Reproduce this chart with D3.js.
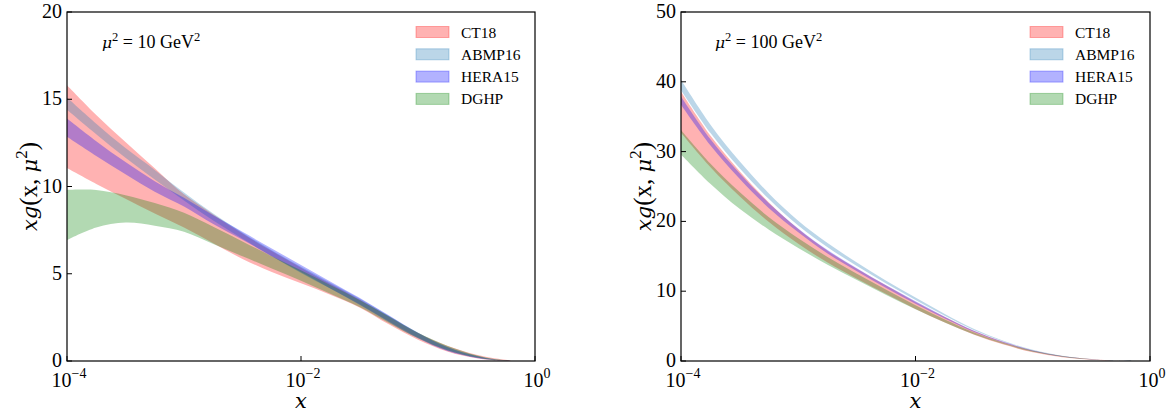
<!DOCTYPE html>
<html>
<head>
<meta charset="utf-8">
<script src="https://cdn.jsdelivr.net/npm/d3@7"></script>
<style>
  body { margin: 0; background: #fff; }
  svg text { font-family: "Liberation Serif", "Times New Roman", serif; }
  svg .it { font-family: "DejaVu Serif", serif; font-style: italic; }
</style>
</head>
<body>
<svg id="chart" width="1169" height="414"></svg>
<script>
// x grid for each panel (quarter decades)
const xGrid10 = [1e-4, 1.778e-4, 3.162e-4, 5.623e-4, 1e-3, 1.778e-3, 3.162e-3, 5.623e-3, 1e-2, 1.778e-2, 3.162e-2, 5.623e-2, 0.1, 0.1778, 0.3162, 0.4467, 0.6166];
const xGrid100 = [1e-4, 1.778e-4, 3.162e-4, 5.623e-4, 1e-3, 1.778e-3, 3.162e-3, 5.623e-3, 1e-2, 1.778e-2, 3.162e-2, 5.623e-2, 0.1, 0.1778, 0.3162, 0.4467, 0.7079];

// mu^2 = 10 GeV^2 bands
const ct18_10_lo = [11.06, 10.15, 9.3, 8.45, 7.65, 6.75, 5.85, 5.1, 4.45, 3.8, 3.07, 2.1, 1.22, 0.55, 0.16, 0.05, 0.005];
const ct18_10_hi = [15.8, 14.1, 12.55, 11.05, 9.55, 8.4, 7.3, 6.3, 5.35, 4.42, 3.52, 2.55, 1.6, 0.88, 0.36, 0.16, 0.04];
const abmp_10_lo = [14.4, 13.0, 11.65, 10.4, 9.2, 8.05, 7.0, 6.0, 5.05, 4.15, 3.25, 2.28, 1.35, 0.62, 0.2, 0.07, 0.01];
const abmp_10_hi = [15.1, 13.6, 12.2, 10.95, 9.65, 8.45, 7.35, 6.35, 5.4, 4.48, 3.58, 2.6, 1.62, 0.82, 0.3, 0.11, 0.02];
const hera_10_lo = [12.85, 11.75, 10.7, 9.7, 8.85, 7.85, 6.95, 6.0, 5.08, 4.15, 3.22, 2.24, 1.3, 0.57, 0.17, 0.05, 0.005];
const hera_10_hi = [13.9, 12.6, 11.4, 10.3, 9.35, 8.35, 7.4, 6.45, 5.5, 4.56, 3.62, 2.62, 1.62, 0.8, 0.28, 0.09, 0.015];
const dghp_10_lo = [6.93, 7.65, 7.93, 7.75, 7.4, 6.7, 6.0, 5.3, 4.6, 3.85, 3.1, 2.18, 1.3, 0.62, 0.2, 0.06, 0.01];
const dghp_10_hi = [9.8, 9.8, 9.5, 9.05, 8.5, 7.7, 6.85, 6.0, 5.2, 4.35, 3.5, 2.56, 1.62, 0.88, 0.33, 0.12, 0.02];

// mu^2 = 100 GeV^2 bands
const ct18_100_lo = [32.7, 27.8, 23.6, 19.9, 16.8, 14.1, 11.8, 9.6, 7.45, 5.5, 3.75, 2.35, 1.25, 0.55, 0.18, 0.06, 0.003];
const ct18_100_hi = [38.6, 32.3, 27.2, 22.7, 18.9, 15.8, 13.2, 10.8, 8.45, 6.3, 4.3, 2.72, 1.52, 0.72, 0.28, 0.11, 0.01];
const abmp_100_lo = [38.8, 32.7, 27.6, 23.2, 19.4, 16.3, 13.6, 11.1, 8.75, 6.5, 4.42, 2.78, 1.52, 0.7, 0.25, 0.1, 0.008];
const abmp_100_hi = [40.3, 33.9, 28.6, 24.0, 20.1, 16.9, 14.1, 11.5, 9.1, 6.75, 4.6, 2.9, 1.6, 0.75, 0.28, 0.12, 0.01];
const hera_100_lo = [36.7, 30.9, 26.1, 21.9, 18.45, 15.4, 12.85, 10.45, 8.2, 6.1, 4.15, 2.6, 1.4, 0.63, 0.22, 0.08, 0.005];
const hera_100_hi = [37.9, 31.8, 26.9, 22.6, 19.0, 15.9, 13.3, 10.85, 8.55, 6.35, 4.35, 2.75, 1.52, 0.7, 0.26, 0.1, 0.008];
const dghp_100_lo = [29.6, 25.4, 21.8, 18.8, 16.2, 13.8, 11.6, 9.45, 7.4, 5.5, 3.8, 2.42, 1.32, 0.6, 0.2, 0.07, 0.004];
const dghp_100_hi = [33.1, 28.3, 24.2, 20.6, 17.6, 14.9, 12.5, 10.2, 8.0, 5.95, 4.1, 2.62, 1.48, 0.7, 0.26, 0.1, 0.008];

const setNames = ["CT18", "ABMP16", "HERA15", "DGHP"];
const setColors = ["rgb(255,0,0)", "rgb(31,119,180)", "rgb(0,0,255)", "rgb(0,128,0)"];
const yTicks10 = [0, 5, 10, 15, 20];
const yTicks100 = [0, 10, 20, 30, 40, 50];
const xTickExp = [-4, -2, 0];

const panels = [
  { left: 67, right: 535, yMax: 20, yTicks: yTicks10, x: xGrid10, mu: "10",
    bands: [[ct18_10_lo, ct18_10_hi], [abmp_10_lo, abmp_10_hi], [hera_10_lo, hera_10_hi], [dghp_10_lo, dghp_10_hi]],
    legX: 416, annX: 102 },
  { left: 681, right: 1150, yMax: 50, yTicks: yTicks100, x: xGrid100, mu: "100",
    bands: [[ct18_100_lo, ct18_100_hi], [abmp_100_lo, abmp_100_hi], [hera_100_lo, hera_100_hi], [dghp_100_lo, dghp_100_hi]],
    legX: 1030, annX: 715 }
];

const plotTop = 12, plotBottom = 361;
const svg = d3.select("#chart");

panels.forEach((p, pi) => {
  const x = d3.scaleLog().domain([1e-4, 1]).range([p.left, p.right]);
  const y = d3.scaleLinear().domain([0, p.yMax]).range([plotBottom, plotTop]);

  const clipId = "clip" + pi;
  svg.append("clipPath").attr("id", clipId)
    .append("rect")
    .attr("x", p.left).attr("y", plotTop)
    .attr("width", p.right - p.left).attr("height", plotBottom - plotTop);

  const g = svg.append("g").attr("clip-path", `url(#${clipId})`);

  p.bands.forEach((b, i) => {
    const rows = p.x.map((xv, k) => ({ x: xv, lo: b[0][k], hi: b[1][k] }));
    const area = d3.area()
      .x((d) => x(d.x))
      .y0((d) => y(d.lo))
      .y1((d) => y(d.hi))
      .curve(d3.curveCatmullRom.alpha(0.5));
    g.append("path")
      .datum(rows)
      .attr("d", area)
      .attr("fill", setColors[i])
      .attr("fill-opacity", 0.3);
  });

  // frame
  svg.append("rect")
    .attr("x", p.left).attr("y", plotTop)
    .attr("width", p.right - p.left).attr("height", plotBottom - plotTop)
    .attr("fill", "none").attr("stroke", "#000").attr("stroke-width", 1.2);

  // y ticks (inward)
  p.yTicks.forEach((t) => {
    svg.append("line")
      .attr("x1", p.left).attr("x2", p.left + 5)
      .attr("y1", y(t)).attr("y2", y(t))
      .attr("stroke", "#000").attr("stroke-width", 1);
    svg.append("text")
      .attr("x", p.left - 5).attr("y", y(t) + 6)
      .attr("text-anchor", "end")
      .style("font-size", "20px")
      .text(t);
  });

  // x ticks (inward)
  xTickExp.forEach((e) => {
    const px = x(Math.pow(10, e));
    svg.append("line")
      .attr("x1", px).attr("x2", px)
      .attr("y1", plotBottom).attr("y2", plotBottom - 5)
      .attr("stroke", "#000").attr("stroke-width", 1);
    const t = svg.append("text")
      .attr("x", px + 2).attr("y", plotBottom + 26)
      .attr("text-anchor", "middle")
      .style("font-size", "20px");
    t.append("tspan").text("10");
    t.append("tspan").attr("dy", -9).style("font-size", "14px")
      .text(e === 0 ? "0" : "\u2212" + Math.abs(e));
  });

  // x label
  svg.append("text")
    .attr("class", "it")
    .attr("x", (p.left + p.right) / 2).attr("y", 408)
    .attr("text-anchor", "middle")
    .style("font-size", "21px")
    .text("x");

  // y label
  const yl = svg.append("text")
    .attr("transform", `translate(${p.left - 30},${(plotTop + plotBottom) / 2}) rotate(-90)`)
    .attr("text-anchor", "middle")
    .style("font-size", "25px");
  yl.append("tspan").attr("class", "it").style("font-size", "21px").text("xg");
  yl.append("tspan").text("(x, ");
  yl.append("tspan").attr("class", "it").style("font-size", "21px").text("\u03bc");
  yl.append("tspan").attr("dy", -10).style("font-size", "17px").text("2");
  yl.append("tspan").attr("dy", 10).text(")");

  // annotation
  const an = svg.append("text")
    .attr("x", p.annX).attr("y", 48)
    .style("font-size", "18px");
  an.append("tspan").attr("class", "it").style("font-size", "15.5px").text("\u03bc");
  an.append("tspan").attr("dy", -7).style("font-size", "12.5px").text("2");
  an.append("tspan").attr("dy", 7).text(` = ${p.mu} GeV`);
  an.append("tspan").attr("dy", -7).style("font-size", "12.5px").text("2");

  // legend
  setNames.forEach((name, i) => {
    const cy = 32 + i * 22.3;
    svg.append("rect")
      .attr("x", p.legX).attr("y", cy - 5.5)
      .attr("width", 33).attr("height", 11)
      .attr("fill", setColors[i]).attr("fill-opacity", 0.3)
      .attr("stroke", setColors[i]).attr("stroke-opacity", 0.3).attr("stroke-width", 1);
    svg.append("text")
      .attr("x", p.legX + 45).attr("y", cy + 5.5)
      .style("font-size", "15.5px")
      .text(name);
  });
});
</script>
</body>
</html>
